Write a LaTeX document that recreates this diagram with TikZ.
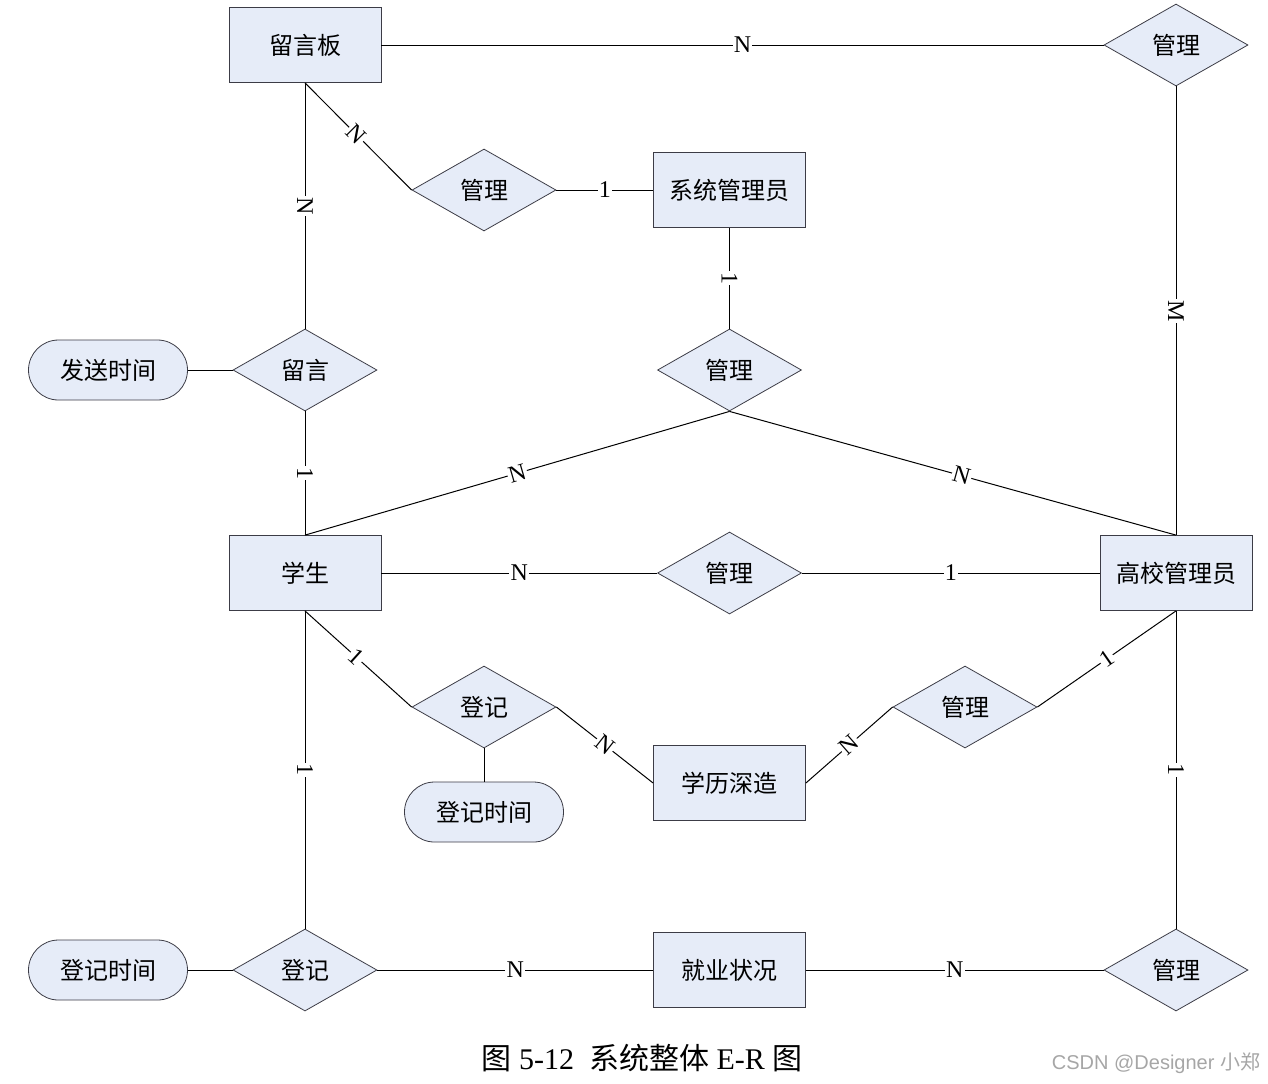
\documentclass[tikz,border=0pt]{standalone}
\usepackage{fontspec}
\setmainfont{Liberation Serif}
\newfontfamily\cjk{Noto Sans CJK SC}
\usetikzlibrary{shapes.geometric,shapes.misc}
\definecolor{boxfill}{RGB}{230,236,248}
\definecolor{boxline}{RGB}{60,60,70}
\tikzset{
 ent/.style={draw=boxline,fill=boxfill,minimum width=76pt,minimum height=37.5pt,inner sep=0pt,font=\cjk\fontsize{12}{14}\selectfont},
 rel/.style={draw=boxline,fill=boxfill,diamond,aspect=1.76,minimum width=72pt,minimum height=41pt,inner sep=0pt,font=\cjk\fontsize{12}{14}\selectfont},
 attr/.style={draw=boxline,fill=boxfill,rounded rectangle,minimum width=79.5pt,minimum height=30pt,inner sep=0pt,font=\cjk\fontsize{12}{14}\selectfont},
 ln/.style={draw=black,line width=0.5pt},
 lab/.style={fill=white,inner sep=0.6pt,font=\fontsize{12}{12}\selectfont,sloped}
}
\begin{document}
\begin{tikzpicture}[x=0.5pt,y=-0.5pt]
\useasboundingbox (0,0) rectangle (1268,1083);
\node[ent] (lyb) at (305,45) {留言板};
\node[rel] (g1) at (1176,45) {管理};
\node[rel] (g2) at (484,190) {管理};
\node[ent] (xt) at (729.5,190) {系统管理员};
\node[rel] (g3) at (729.5,370) {管理};
\node[rel] (ly) at (305,370) {留言};
\node[attr] (fs) at (108,370) {发送时间};
\node[ent] (xs) at (305,573) {学生};
\node[rel] (g4) at (729.5,573) {管理};
\node[ent] (gx) at (1176,573) {高校管理员};
\node[rel] (dj) at (484,707) {登记};
\node[attr] (djt) at (484,812) {登记时间};
\node[ent] (xl) at (729.5,783) {学历深造};
\node[rel] (g5) at (965,707) {管理};
\node[attr] (djt2) at (108,970) {登记时间};
\node[rel] (dj2) at (305,970) {登记};
\node[ent] (jy) at (729.5,970) {就业状况};
\node[rel] (g6) at (1176,970) {管理};

\coordinate (lybs) at (lyb.south);
\draw[ln] (lyb.east) -- node[lab,pos=0.5] {N} (g1.west);
\draw[ln] (g1.south) -- node[lab,pos=0.5] {M} (gx.north);
\draw[ln] (lybs) -- node[lab,pos=0.48] {N} (g2.west);
\draw[ln] (g2.east) -- node[lab] {1} (xt.west);
\draw[ln] (xt.south) -- node[lab] {1} (g3.north);
\draw[ln] (lybs) -- node[lab] {N} (ly.north);
\draw[ln] (fs.east) -- (ly.west);
\draw[ln] (ly.south) -- node[lab] {1} (xs.north);
\draw[ln] (xs.north) -- node[lab,pos=0.5] {N} (g3.south);
\draw[ln] (g3.south) -- node[lab,pos=0.52] {N} (gx.north);
\draw[ln] (xs.east) -- node[lab,pos=0.5] {N} (g4.west);
\draw[ln] (g4.east) -- node[lab,pos=0.5] {1} (gx.west);
\draw[ln] (xs.south) -- node[lab,pos=0.48] {1} (dj.west);
\draw[ln] (dj.east) -- node[lab] {N} (xl.west);
\draw[ln] (dj.south) -- (djt.north);
\draw[ln] (xl.east) -- node[lab] {N} (g5.west);
\draw[ln] (g5.east) -- node[lab] {1} (gx.south);
\draw[ln] (xs.south) -- node[lab,pos=0.5] {1} (dj2.north);
\draw[ln] (gx.south) -- node[lab,pos=0.5] {1} (g6.north);
\draw[ln] (djt2.east) -- (dj2.west);
\draw[ln] (dj2.east) -- node[lab,pos=0.5] {N} (jy.west);
\draw[ln] (jy.east) -- node[lab,pos=0.5] {N} (g6.west);

\node[font=\fontsize{15}{15}\selectfont] (cap) at (642,1058) {{\cjk 图} 5-12\ \ {\cjk 系统整体} E-R {\cjk 图}};
\node[font=\fontsize{10}{10}\selectfont,text=gray!70] (wm) at (1156,1063) {\fontspec{Liberation Sans}CSDN @Designer {\cjk 小郑}};
\end{tikzpicture}
\end{document}
